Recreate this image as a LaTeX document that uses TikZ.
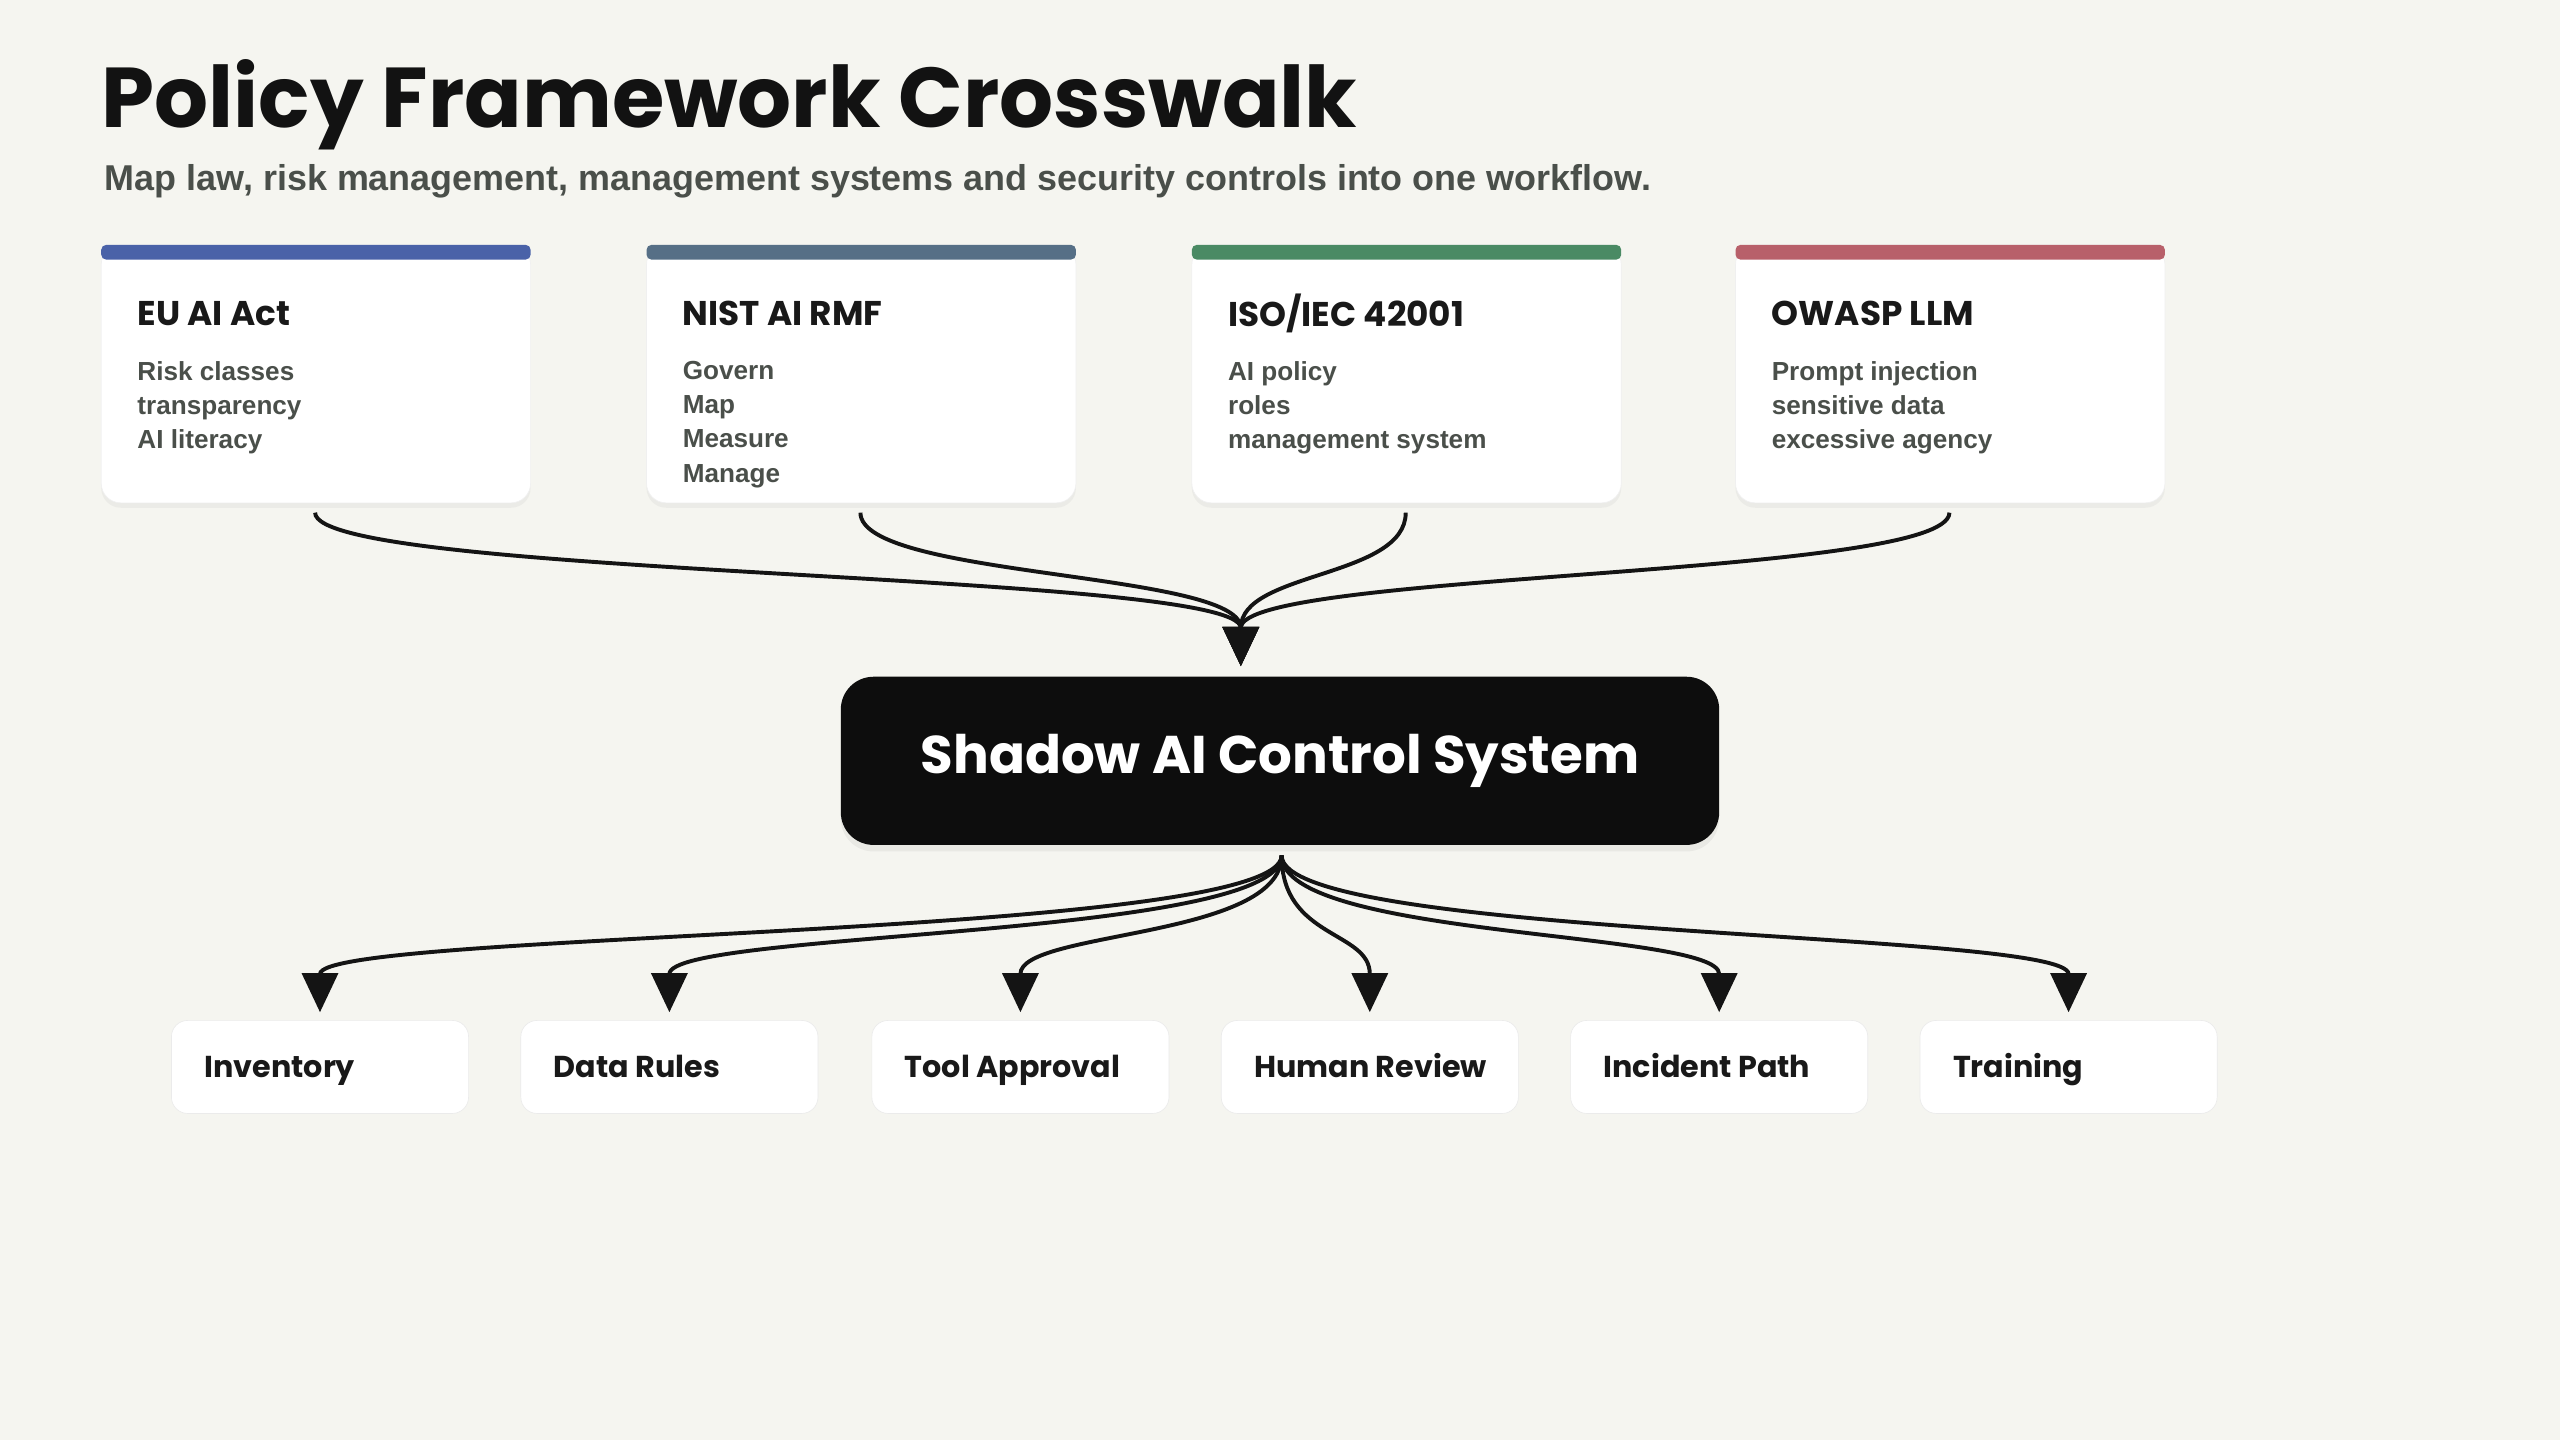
\documentclass[tikz,border=0pt]{standalone}
\usepackage{fontspec}
\setmainfont{Liberation Sans}
\newfontfamily\heavy{Poppins}
\usetikzlibrary{arrows.meta,shadows,calc}
\definecolor{bg}{HTML}{F5F5F0}
\definecolor{sub}{HTML}{4A4F4A}
\definecolor{cblue}{HTML}{4A62A8}
\definecolor{cslate}{HTML}{566F86}
\definecolor{cgreen}{HTML}{4A8A64}
\definecolor{cred}{HTML}{B8606A}
\begin{document}
\begin{tikzpicture}[x=1pt,y=-1pt,
  card/.style={fill=white,draw=black!6,rounded corners=12pt,drop shadow={opacity=0.08,shadow xshift=0pt,shadow yshift=-3pt}},
  ctitle/.style={anchor=west,font=\heavy\bfseries\fontsize{21}{24}\selectfont,text=black!90},
  citems/.style={anchor=north west,align=left,font=\bfseries\fontsize{16}{21}\selectfont,text=sub},
  leaf/.style={fill=white,draw=black!8,rounded corners=10pt,minimum width=182pt,minimum height=57pt},
  ltext/.style={anchor=base west,font=\heavy\bfseries\fontsize{18.5}{20}\selectfont,text=black!90},
  conn/.style={line width=2.4pt,draw=black!92,-{Triangle[width=22pt,length=24pt]}}]
\fill[bg] (0,0) rectangle (1568,882);
\useasboundingbox (0,0) rectangle (1568,882);
\node[anchor=base west,inner sep=0,font=\heavy\bfseries\fontsize{52}{58}\selectfont,text=black!93] (title) at (62,78) {Policy Framework Crosswalk};
\node[anchor=west,inner sep=0,font=\bfseries\fontsize{22}{24}\selectfont,text=sub] (subtitle) at (64,111) {Map law, risk management, management systems and security controls into one workflow.};
% cards
\foreach \x/\c/\n/\t/\i in {62/cblue/c1/{EU AI Act}/{Risk classes\\transparency\\AI literacy},
  396/cslate/c2/{NIST AI RMF}/{Govern\\Map\\Measure\\Manage},
  730/cgreen/c3/{ISO/IEC 42001}/{AI policy\\roles\\management system},
  1063/cred/c4/{OWASP LLM}/{Prompt injection\\sensitive data\\excessive agency}}{
  \path[card] (\x,150) rectangle ++(263,158);
  \fill[\c,rounded corners=3pt] (\x,150) rectangle ++(263,9);
  \node[ctitle,inner sep=0] (\n t) at (\x+22,192) {\t};
  \node[citems,inner sep=0] (\n i) at (\x+22,221) {\i};
  \coordinate (\n) at (\x+131,314);
}
% center
\node[fill=black!95,rounded corners=20pt,minimum width=538pt,minimum height=103pt,text=white,
  font=\heavy\bfseries\fontsize{32.5}{36}\selectfont,drop shadow={opacity=0.1,shadow xshift=0pt,shadow yshift=-4pt}] (ctr) at (784,466) {Shadow AI Control System};
\coordinate (cin) at (760,408);
\coordinate (cout) at (785,524);
\foreach \n in {c1,c2,c3,c4}{
  \draw[conn] (\n) .. controls ($(\n)+(0,40)$) and (760,350) .. (cin);
}
% leaves
\foreach \x/\n/\t in {105/l1/Inventory,319/l2/Data Rules,534/l3/Tool Approval,748/l4/Human Review,962/l5/Incident Path,1176/l6/Training}{
  \node[leaf] (\n) at (\x+91,653.5) {};
  \node[ltext,inner sep=0] (\n t) at (\x+20,660) {\t};
  \draw[conn] (cout) .. controls (785,575) and (\x+91,570) .. (\x+91,620);
}
\end{tikzpicture}
\end{document}
